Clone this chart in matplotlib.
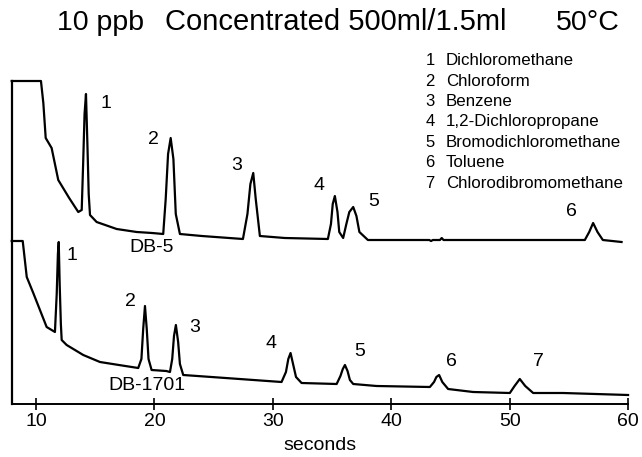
import matplotlib
matplotlib.use("Agg")
import matplotlib.pyplot as plt

plt.rcParams['font.family'] = ['Liberation Sans', 'DejaVu Sans']

# DB-5 trace (top), time in seconds vs detector signal (arbitrary units)
db5_t = [7.95, 10.42, 10.62, 10.82, 11.32, 11.88, 12.8, 13.57, 13.86, 13.98, 14.1, 14.22, 14.34, 14.45, 14.56,
         15.12, 16.81, 18.5, 19.8, 20.74, 20.95, 21.15, 21.37, 21.6, 21.8, 22.15,
         24.0, 27.47, 27.85, 28.1, 28.34, 28.55, 28.9,
         31.0, 34.64, 34.9, 35.05, 35.23, 35.45, 35.6, 35.93, 36.2, 36.45, 36.78, 37.05, 37.3, 38.02,
         42.0, 43.2, 43.35, 43.5, 44.1, 44.25, 44.4, 48.0, 56.33, 56.7, 57.03, 57.4, 57.85, 59.43]
db5_y = [323, 323, 301, 266, 256, 224, 206, 192, 194, 240, 290, 310, 260, 210, 189,
         182, 175, 172, 171, 170, 205, 250, 266, 245, 190, 170,
         168, 165, 190, 220, 231, 205, 168,
         166, 165, 180, 200, 208, 192, 172, 166, 180, 192, 197, 188, 172, 164,
         164, 164, 163, 164, 164, 166, 164, 164, 164, 172, 181, 172, 164, 162]

# DB-1701 trace (bottom)
db1701_t = [7.95, 8.88, 9.22, 9.77, 10.9, 11.6, 11.75, 11.85, 11.92, 12.0, 12.1, 12.17, 12.59, 13.99, 15.4,
            17.0, 18.63, 18.9, 19.05, 19.2, 19.35, 19.5, 19.76, 21.0, 21.31, 21.5, 21.65, 21.81, 22.0, 22.15, 22.43,
            26.0, 30.73, 31.1, 31.3, 31.49, 31.7, 31.95, 32.42,
            35.38, 35.7, 35.9, 36.08, 36.3, 36.5, 36.78, 38.75, 43.25, 43.6, 43.8, 44.03, 44.3, 44.79,
            46.9, 50.0, 50.4, 50.84, 51.3, 51.97, 54.5, 59.98]
db1701_y = [163, 163, 127, 111, 77, 72, 110, 150, 162, 120, 80, 64, 59, 49, 42,
            39, 36, 45, 75, 98, 75, 45, 34, 33, 32, 45, 68, 79, 62, 40, 29,
            26, 22, 32, 45, 51, 40, 27, 21,
            20, 28, 35, 39, 33, 24, 20, 18, 17, 22, 27, 29, 22, 15,
            12, 11, 18, 25, 18, 11, 11, 9]

top_labels = ['1', '2', '3', '4', '5', '6']
top_label_t = [15.9, 19.9, 26.9, 33.9, 38.5, 55.2]
top_label_y = [301, 264, 238, 218, 202, 193]

bot_labels = ['1', '2', '3', '4', '5', '6', '7']
bot_label_t = [13.0, 18.0, 23.4, 29.8, 37.3, 45.1, 52.4]
bot_label_y = [149, 102, 76, 61, 52, 42, 42]

legend_nums = ['1', '2', '3', '4', '5', '6', '7']
legend_names = ['Dichloromethane', 'Chloroform', 'Benzene', '1,2-Dichloropropane',
                'Bromodichloromethane', 'Toluene', 'Chlorodibromomethane']

title_parts = ['10 ppb', 'Concentrated 500ml/1.5ml', '50°C']

xticks = [10, 20, 30, 40, 50, 60]

W, H = 642, 457
fig = plt.figure(figsize=(W / 100, H / 100), dpi=100)
ax_left, ax_right = 11.7, 628.3
ax_bottom, ax_top = 404, 60
ax = fig.add_axes([ax_left / W, 1 - ax_bottom / H, (ax_right - ax_left) / W, (ax_bottom - ax_top) / H])
ax.set_xlim(7.95, 60)
ax.set_ylim(0, 344)

ax.plot(db5_t, db5_y, color='black', lw=1.6, solid_joinstyle='round', clip_on=False)
ax.plot(db1701_t, db1701_y, color='black', lw=1.6, solid_joinstyle='round', clip_on=False)

for s in ['top', 'right']:
    ax.spines[s].set_visible(False)
ax.spines['left'].set_bounds(0, 323)
ax.spines['left'].set_linewidth(1.6)
ax.spines['bottom'].set_linewidth(1.4)
ax.set_yticks([])
ax.set_xticks(xticks)
ax.tick_params(axis='x', direction='inout', length=9, width=1.2, labelsize=14, pad=2)
ax.set_xlabel('seconds', fontsize=14, labelpad=5)

for lab, t, y in zip(top_labels, top_label_t, top_label_y):
    ax.text(t, y, lab, fontsize=14, ha='center', va='center')
for lab, t, y in zip(bot_labels, bot_label_t, bot_label_y):
    ax.text(t, y, lab, fontsize=14, ha='center', va='center')

ax.text(19.75, 156, 'DB-5', fontsize=14, ha='center', va='center')
ax.text(19.35, 18, 'DB-1701', fontsize=14, ha='center', va='center')

for i, (n, name) in enumerate(zip(legend_nums, legend_names)):
    ypx = 60.7 + i * 20.4
    fig.text(430 / W, 1 - ypx / H, n, fontsize=12, ha='center', va='center')
    fig.text(446 / W, 1 - ypx / H, name, fontsize=12.2, ha='left', va='center')

title_base = 1 - 30 / H
fig.text(56.7 / W, title_base, title_parts[0], fontsize=20.5, ha='left', va='baseline')
fig.text(165 / W, title_base, title_parts[1], fontsize=21, ha='left', va='baseline')
fig.text(620 / W, title_base, title_parts[2], fontsize=20.5, ha='right', va='baseline')

fig.savefig('out.png', dpi=100)
